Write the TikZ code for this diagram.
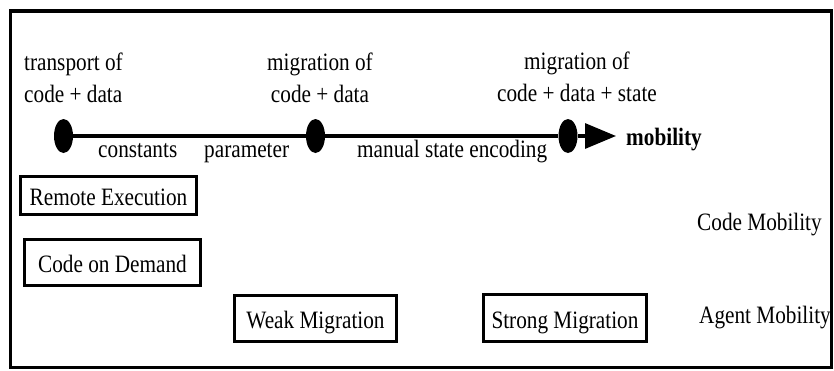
\documentclass[tikz,border=0pt]{standalone}
\usepackage{fontspec}
\setmainfont{Liberation Serif}[FakeStretch=0.85]
\usetikzlibrary{shapes.geometric,arrows.meta}
\begin{document}
\begin{tikzpicture}[x=1pt,y=-1pt,
  txt/.style={inner sep=0pt, font=\fontsize{25}{32}\selectfont},
  boxed/.style={txt, draw, line width=2.5pt, text height=20pt, text depth=0pt},
  dot/.style={ellipse, fill=black, draw=none, inner sep=0pt, minimum width=19pt, minimum height=34pt},
  axis/.style={line width=3.2pt}
]
\useasboundingbox (0,0) rectangle (834,370);
\draw[line width=3.5pt] (10.5,11) rectangle (831.5,367.5);

% axis
\node[dot] (d1) at (63.5,136) {};
\node[dot] (d2) at (315.5,136) {};
\node[dot] (d3) at (568,136) {};
\coordinate (tip) at (616,136);
\draw[axis] (d1) -- (d2) -- (d3);
\draw[axis, -{Triangle[length=31pt,width=25pt]}] (d3.east) -- (tip);

% labels above
\node[txt, anchor=base west, align=left] (l1) at (24,102.7) {transport of\\code + data};
\node[txt, anchor=base, align=center] (l2) at (320,102.7) {migration of\\code + data};
\node[txt, anchor=base, align=center] (l3) at (577,101) {migration of\\code + data + state};

% labels below
\node[txt, anchor=base west] (c1) at (98,157) {constants};
\node[txt, anchor=base west] (c2) at (204,157) {parameter};
\node[txt, anchor=base west] (c3) at (357,157) {manual state encoding};
\node[txt, anchor=base west, font=\fontsize{25}{32}\selectfont\bfseries] (mob) at (626,145) {mobility};

% boxes
\node[boxed, minimum width=176pt, minimum height=38pt] (re) at (108.5,195.5) {Remote Execution};
\node[boxed, minimum width=176pt, minimum height=46pt] (cod) at (112.5,262.5) {Code on Demand};
\node[boxed, minimum width=162pt, minimum height=46pt] (wm) at (315.5,318.5) {Weak Migration};
\node[boxed, minimum width=163pt, minimum height=47pt] (sm) at (565,318) {Strong Migration};

% category labels
\node[txt, anchor=base west] (cm) at (697,230) {Code Mobility};
\node[txt, anchor=base west] (am) at (699,323) {Agent Mobility};
\end{tikzpicture}
\end{document}
